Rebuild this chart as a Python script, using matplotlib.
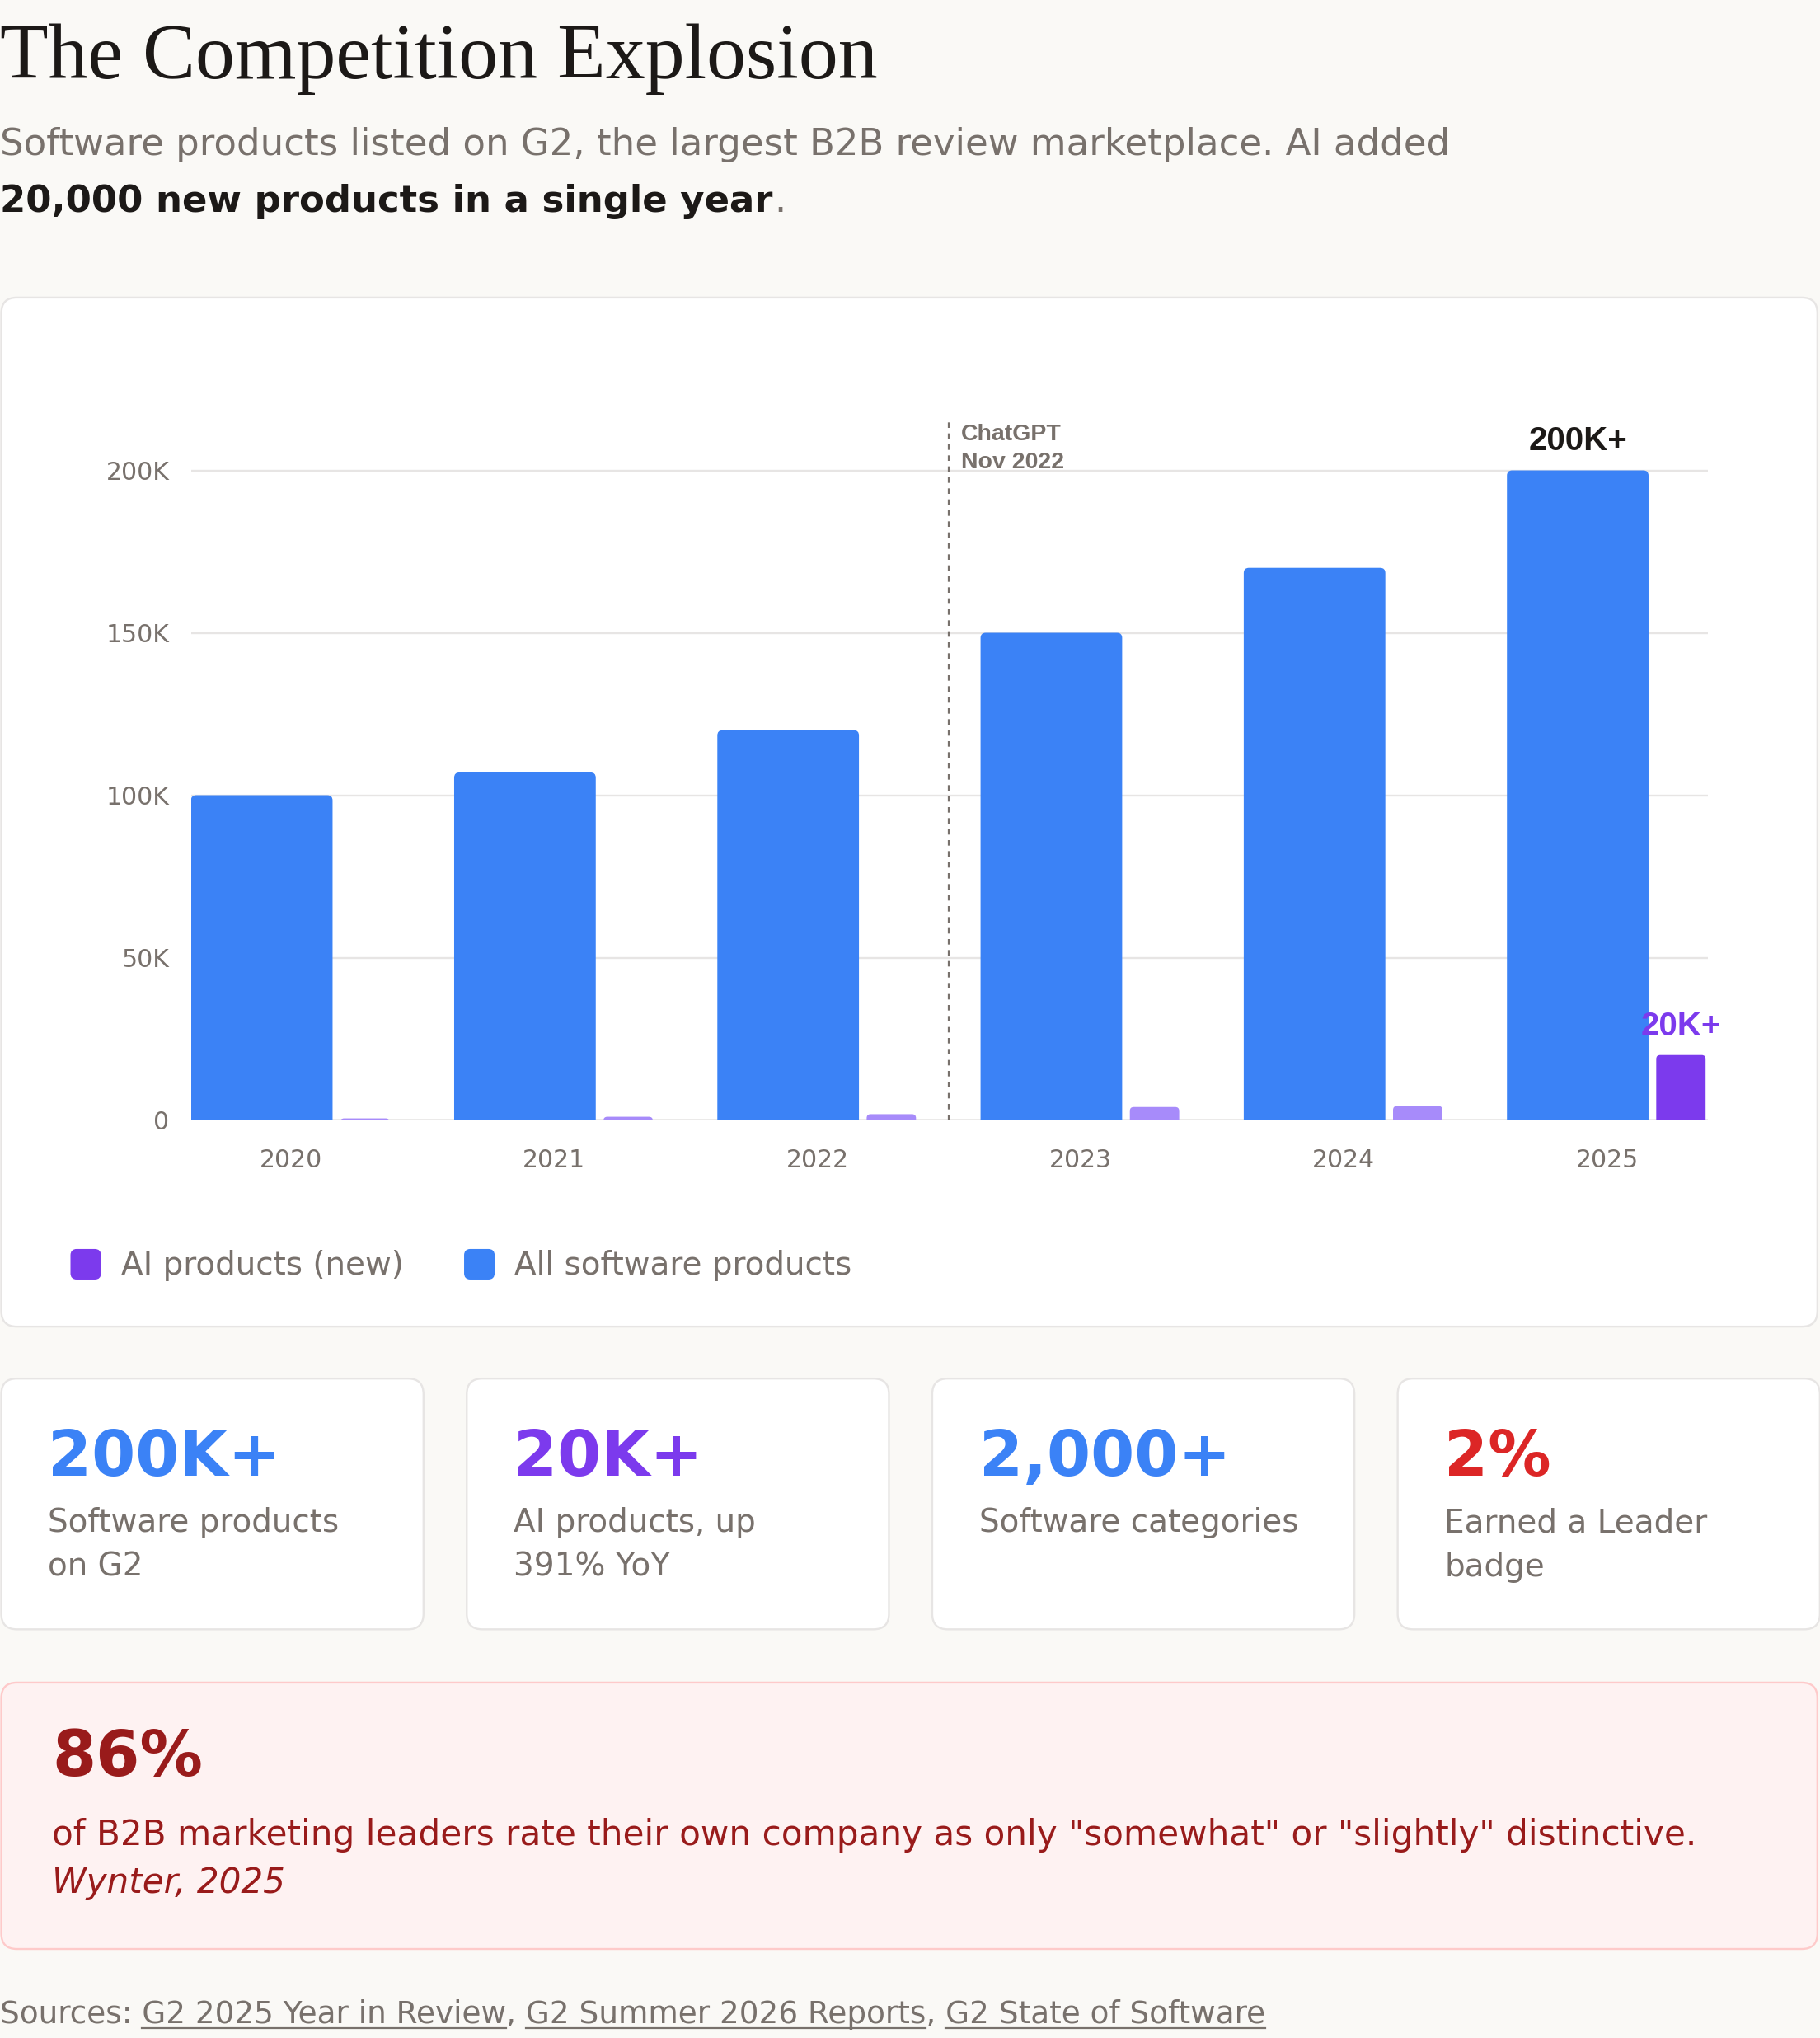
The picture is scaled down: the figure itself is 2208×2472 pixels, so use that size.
import matplotlib
matplotlib.use('Agg')
import matplotlib.pyplot as plt
from matplotlib.patches import FancyBboxPatch

years = ['2020', '2021', '2022', '2023', '2024', '2025']
all_software = [100000, 107000, 120000, 150000, 170000, 200000]
ai_new = [500, 1000, 1800, 4000, 4300, 20000]
y_ticks = [0, 50000, 100000, 150000, 200000]
y_tick_labels = ['0', '50K', '100K', '150K', '200K']

stat_values = ['200K+', '20K+', '2,000+', '2%']
stat_labels = [['Software products', 'on G2'],
               ['AI products, up', '391% YoY'],
               ['Software categories'],
               ['Earned a Leader', 'badge']]
stat_colors = ['#3b82f6', '#7c3aed', '#3b82f6', '#dc2626']

BG = '#faf9f6'
GRAY = '#78716c'
DARK = '#1c1917'
BORDER = '#e7e5e4'
BLUE = '#3b82f6'
PURPLE = '#7c3aed'
LIGHT_PURPLE = '#a78bfa'
DARK_RED = '#991b1b'

# layout units: the reference measured at 1401 px wide
W = 1401
H = 2472 * 1401 / 2208
PX = 2208 / W  # real pixels per layout unit

fig = plt.figure(figsize=(22.08, 24.72), dpi=100, facecolor=BG)
bg = fig.add_axes([0, 0, 1, 1], zorder=0)
bg.set_xlim(0, W)
bg.set_ylim(H, 0)
bg.axis('off')
bg.set_facecolor(BG)


def box(x, y, w, h, face, edge, r=12):
    p = FancyBboxPatch((x, y), w, h, boxstyle='round,pad=0,rounding_size=%s' % r,
                       facecolor=face, edgecolor=edge, linewidth=1.7)
    bg.add_patch(p)


renderer = fig.canvas.get_renderer()


def text_width(s, **kw):
    t = bg.text(0, 0, s, **kw)
    w = t.get_window_extent(renderer).width / PX
    t.remove()
    return w


# title + subtitle
bg.text(0, 60, 'The Competition Explosion', family='Liberation Serif', fontsize=69,
        color=DARK, va='baseline', ha='left')
bg.text(0, 119, 'Software products listed on G2, the largest B2B review marketplace. AI added',
        fontsize=32.4, color=GRAY, va='baseline', ha='left')
bold_part = '20,000 new products in a single year'
bg.text(0, 163, bold_part, fontsize=32.4, color=DARK, fontweight='bold', va='baseline', ha='left')
bw = text_width(bold_part, fontsize=32.4, fontweight='bold')
bg.text(bw + 1, 163, '.', fontsize=32.4, color=GRAY, va='baseline', ha='left')

# chart card
box(1, 229, 1398, 792, 'white', BORDER)

left, right, top, bottom = 147, 1315, 322, 862
ax = fig.add_axes([left / W, 1 - bottom / H, (right - left) / W, (bottom - top) / H], zorder=1)
ax.set_facecolor('none')
ax.set_xlim(-0.38, 5.385)
ax.set_ylim(0, 216000)
x_per_unit = (5.385 + 0.38) / (right - left)
y_per_unit = 216000 / (bottom - top)


def rounded_bars(bars, colors, r):
    # swap the plain rectangles for ones with rounded tops
    for b, c in zip(bars, colors):
        ry = 2 * r * y_per_unit
        p = FancyBboxPatch((b.get_x(), -ry), b.get_width(), b.get_height() + ry,
                           boxstyle='round,pad=0,rounding_size=%s' % (r * x_per_unit),
                           mutation_aspect=y_per_unit / x_per_unit,
                           facecolor=c, edgecolor='none', zorder=2)
        ax.add_patch(p)
        b.remove()


x = list(range(len(years)))
blue_bars = ax.bar([i - 0.111 for i in x], all_software, width=0.538, color=BLUE, zorder=2)
rounded_bars(blue_bars, [BLUE] * len(years), 4)
ai_colors = [LIGHT_PURPLE] * (len(years) - 1) + [PURPLE]
ai_bars = ax.bar([i + 0.281 for i in x], ai_new, width=0.1875, color=ai_colors, zorder=2)
rounded_bars(ai_bars, ai_colors, 3)

ax.set_yticks(y_ticks)
ax.set_yticklabels(y_tick_labels)
ax.set_xticks(x)
ax.set_xticklabels(years)
ax.tick_params(axis='y', length=0, pad=19, labelsize=21.5, labelcolor=GRAY)
ax.tick_params(axis='x', length=0, pad=24.5, labelsize=21.5, labelcolor=GRAY)
for s in ax.spines.values():
    s.set_visible(False)
for v in y_ticks:
    ax.axhline(v, color=BORDER, linewidth=1.7 if v else 2.6, zorder=1)

ax.plot([2.5, 2.5], [0, 216000], color=GRAY, linewidth=1.6, linestyle=(0, (3, 3)), zorder=3,
        clip_on=False)
ax.annotate('ChatGPT\nNov 2022', xy=(2.5, 216000), xytext=(15, -7), textcoords='offset pixels',
            family='Liberation Sans', fontweight='bold', fontsize=20.5, color=GRAY,
            ha='left', va='top', linespacing=1.4)
ax.annotate('200K+', xy=(5 - 0.111, all_software[-1]), xytext=(0, 25), textcoords='offset pixels',
            family='Liberation Sans', fontweight='bold', fontsize=29, color=DARK,
            ha='center', va='baseline', annotation_clip=False)
ax.annotate('20K+', xy=(5 + 0.281, ai_new[-1]), xytext=(0, 24), textcoords='offset pixels',
            family='Liberation Sans', fontweight='bold', fontsize=29, color=PURPLE,
            ha='center', va='baseline', annotation_clip=False)

# legend
for lx, col, lab in [(55, PURPLE, 'AI products (new)'), (358, BLUE, 'All software products')]:
    box(lx, 962, 22, 22, col, col, r=4)
    bg.text(lx + 38, 974, lab, fontsize=28, color=GRAY, va='center', ha='left')

# stat cards
for i in range(4):
    cx = i * 358.3 + 1
    box(cx, 1061, 325, 193, 'white', BORDER)
    bg.text(cx + 36, 1136, stat_values[i], fontsize=55, fontweight='bold',
            color=stat_colors[i], va='baseline', ha='left')
    for k, line in enumerate(stat_labels[i]):
        bg.text(cx + 36, 1179 + 34 * k, line, fontsize=28, color=GRAY, va='baseline', ha='left')

# callout
box(1, 1295, 1398, 205, '#fef2f2', '#fecaca')
bg.text(40, 1367, '86%', fontsize=55, fontweight='bold', color=DARK_RED, va='baseline', ha='left')
bg.text(40, 1420, 'of B2B marketing leaders rate their own company as only "somewhat" or "slightly" distinctive.',
        fontsize=30.3, color=DARK_RED, va='baseline', ha='left')
bg.text(40, 1457, 'Wynter, 2025', fontsize=30.3, style='italic', color=DARK_RED, va='baseline', ha='left')

# sources
sources = 'Sources: G2 2025 Year in Review, G2 Summer 2026 Reports, G2 State of Software'
links = ['G2 2025 Year in Review', 'G2 Summer 2026 Reports', 'G2 State of Software']
bg.text(0, 1557, sources, fontsize=26.9, color=GRAY, va='baseline', ha='left')
for link in links:
    prefix = sources[:sources.index(link)]
    lw = text_width(link, fontsize=26.9)
    start = text_width(prefix + link, fontsize=26.9) - lw
    bg.plot([start, start + lw], [1561, 1561], color=GRAY, linewidth=1.6)

fig.savefig('out.png', dpi=100, facecolor=BG)
